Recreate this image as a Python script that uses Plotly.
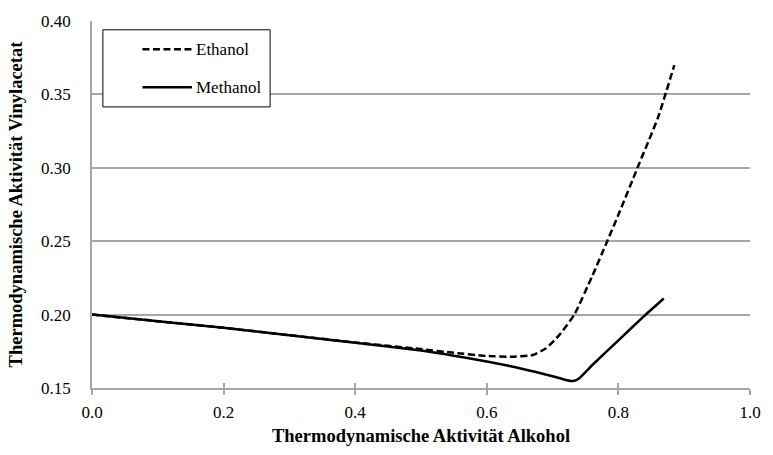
import plotly.graph_objects as go

# Thermodynamic activity of vinyl acetate vs. alcohol activity
series_names = ["Ethanol", "Methanol"]

ethanol_x = [0.0, 0.1, 0.2, 0.3, 0.4, 0.5, 0.55, 0.6, 0.64, 0.67, 0.69, 0.71,
             0.733, 0.76, 0.783, 0.8, 0.829, 0.86, 0.885]
ethanol_y = [0.200, 0.1955, 0.191, 0.186, 0.181, 0.1765, 0.174, 0.1718, 0.1713,
             0.1725, 0.177, 0.186, 0.200, 0.226, 0.250, 0.268, 0.300, 0.334, 0.370]

methanol_x = [0.0, 0.1, 0.2, 0.3, 0.4, 0.5, 0.55, 0.6, 0.65, 0.7, 0.72, 0.731,
              0.74, 0.76, 0.80, 0.839, 0.869]
methanol_y = [0.200, 0.1955, 0.191, 0.186, 0.1808, 0.1755, 0.172, 0.168, 0.1635,
              0.158, 0.1555, 0.1547, 0.1565, 0.1655, 0.1825, 0.199, 0.211]

x_ticks = [0.0, 0.2, 0.4, 0.6, 0.8, 1.0]
y_ticks = [0.15, 0.20, 0.25, 0.30, 0.35, 0.40]

W, H = 773, 455
L, R, T, B = 92, 16, 14, 65
FONT = "Liberation Serif, Times New Roman, serif"
GRID = "#a6a6a6"
DASH = "7px,3.5px"

fig = go.Figure()
fig.add_trace(go.Scatter(x=ethanol_x, y=ethanol_y, mode="lines", name=series_names[0],
                         line=dict(color="black", width=2.5, dash=DASH,
                                   shape="spline", smoothing=0.5),
                         showlegend=False))
fig.add_trace(go.Scatter(x=methanol_x, y=methanol_y, mode="lines", name=series_names[1],
                         line=dict(color="black", width=2.5, shape="spline", smoothing=0.5),
                         showlegend=False))

# invisible trace on an overlaid axis so the x ticks cross the axis line
fig.add_trace(go.Scatter(x=[0], y=[0.15], xaxis="x2", mode="markers",
                         marker=dict(opacity=0), hoverinfo="skip", showlegend=False))

pw, ph = W - L - R, H - T - B


def px_x(px):
    return (px - L) / pw


def px_y(py):
    return (H - B - py) / ph


# boxed legend in the upper left of the plot area
box = dict(x0=103, y0=23, x1=272, y1=102)
fig.add_shape(type="rect", xref="paper", yref="paper",
              x0=px_x(box["x0"]), x1=px_x(box["x1"]),
              y0=px_y(box["y1"]), y1=px_y(box["y0"]),
              line=dict(color="black", width=1), fillcolor="white", layer="above")
for name, ypx, dash in [(series_names[0], 43, DASH), (series_names[1], 82, "solid")]:
    fig.add_shape(type="line", xref="paper", yref="paper",
                  x0=px_x(143), x1=px_x(193), y0=px_y(ypx), y1=px_y(ypx),
                  line=dict(color="black", width=2.5, dash=dash), layer="above")
    fig.add_annotation(text=name, xref="paper", yref="paper", x=px_x(195), y=px_y(ypx),
                       xanchor="left", yanchor="middle", showarrow=False,
                       font=dict(family=FONT, size=17, color="black"))

fig.update_layout(
    width=W, height=H,
    margin=dict(l=L, r=R, t=T, b=B, pad=0),
    paper_bgcolor="white", plot_bgcolor="white",
    font=dict(family=FONT, size=17, color="black"),
    xaxis=dict(range=[0, 1], tickvals=x_ticks, tickformat=".1f",
               showgrid=False, zeroline=False,
               showline=True, linecolor=GRID, linewidth=1.5,
               ticks="outside", ticklen=5, tickcolor=GRID, tickwidth=1.5,
               tickfont=dict(family=FONT, size=17), ticklabelstandoff=3,
               title=dict(text="<b>Thermodynamische Aktivität Alkohol</b>",
                          font=dict(family=FONT, size=18.5), standoff=8)),
    xaxis2=dict(range=[0, 1], overlaying="x", anchor="y", side="bottom",
                tickvals=x_ticks, showticklabels=False, showgrid=False, zeroline=False,
                ticks="inside", ticklen=5, tickcolor=GRID, tickwidth=1.5, showline=False),
    yaxis=dict(range=[0.15, 0.40], tickvals=y_ticks, tickformat=".2f",
               showgrid=True, gridcolor=GRID, gridwidth=1.5, zeroline=False,
               showline=True, linecolor=GRID, linewidth=1.5,
               ticks="", tickfont=dict(family=FONT, size=17), ticklabelstandoff=16,
               title=dict(text="<b>Thermodynamische Aktivität Vinylacetat</b>",
                          font=dict(family=FONT, size=18.5), standoff=14)),
)

fig.write_html("out.html")
